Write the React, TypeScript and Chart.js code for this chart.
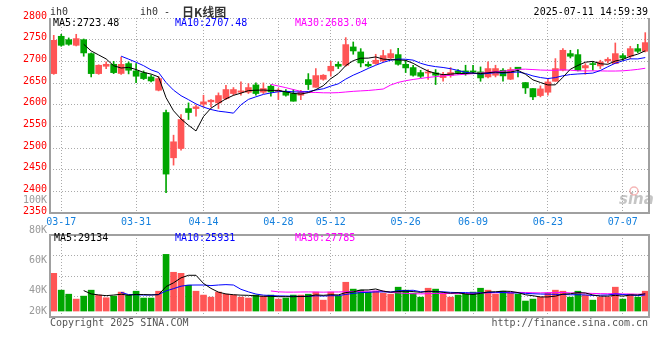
import React, { useEffect, useRef } from 'react';
import { Chart, registerables } from 'chart.js';

Chart.register(...registerables);

// ---------- data ----------
const DATES = [
  '03-14', '03-17', '03-18', '03-19', '03-20', '03-21', '03-24', '03-25', '03-26', '03-27', '03-28', '03-31',
  '04-01', '04-02', '04-03', '04-07', '04-08', '04-09', '04-10', '04-11', '04-14', '04-15', '04-16', '04-17', '04-18',
  '04-21', '04-22', '04-23', '04-24', '04-25', '04-28', '04-29', '04-30',
  '05-06', '05-07', '05-08', '05-09', '05-12', '05-13', '05-14', '05-15', '05-16', '05-19', '05-20', '05-21', '05-22', '05-23',
  '05-26', '05-27', '05-28', '05-29', '05-30',
  '06-03', '06-04', '06-05', '06-06', '06-09', '06-10', '06-11', '06-12', '06-13', '06-16', '06-17', '06-18', '06-19', '06-20',
  '06-23', '06-24', '06-25', '06-26', '06-27', '06-30',
  '07-01', '07-02', '07-03', '07-04', '07-07', '07-08', '07-09', '07-10',
];

const TICK_DATES = ['03-17', '03-31', '04-14', '04-28', '05-12', '05-26', '06-09', '06-23', '07-07'];

const OPEN = [
  2671.7, 2757.8, 2750.0, 2737.0, 2750.0, 2717.8, 2671.7, 2688.6, 2693.2, 2672.0,
  2694.8, 2677.9, 2673.3, 2664.0, 2633.3, 2581.9, 2477.4, 2498.9, 2591.0, 2591.0,
  2601.1, 2606.5, 2604.1, 2614.1, 2625.7, 2628.7, 2628.7, 2645.6, 2628.7, 2642.5,
  2630.2, 2629.5, 2625.7, 2621.8, 2657.9, 2640.2, 2658.7, 2677.9, 2693.2, 2690.9,
  2733.2, 2721.7, 2693.2, 2694.8, 2701.0, 2707.8, 2715.5, 2693.2, 2685.6, 2674.0,
  2673.0, 2673.3, 2662.5, 2667.9, 2677.9, 2677.9, 2677.9, 2675.6, 2664.0, 2667.9,
  2679.4, 2658.7, 2686.4, 2651.0, 2637.2, 2621.0, 2628.7, 2654.0, 2679.4, 2717.8,
  2715.5, 2684.8, 2694.8, 2689.4, 2700.9, 2694.8, 2713.2, 2711.7, 2729.3, 2723.2,
];
const HIGH = [
  2760.0, 2762.4, 2754.0, 2762.4, 2751.6, 2719.4, 2692.0, 2698.6, 2700.0, 2710.0,
  2698.6, 2694.8, 2677.9, 2668.0, 2665.0, 2587.3, 2529.6, 2577.3, 2604.0, 2598.8,
  2621.8, 2611.8, 2627.2, 2644.9, 2639.5, 2652.5, 2648.7, 2650.2, 2650.2, 2645.6,
  2637.2, 2634.9, 2634.9, 2633.3, 2671.7, 2683.3, 2669.4, 2700.2, 2698.6, 2754.7,
  2744.7, 2729.3, 2698.6, 2716.3, 2725.5, 2727.0, 2730.1, 2702.5, 2690.9, 2679.4,
  2681.0, 2681.0, 2674.8, 2685.6, 2681.0, 2691.0, 2691.0, 2687.1, 2698.6, 2691.0,
  2683.3, 2685.6, 2686.4, 2651.0, 2637.2, 2643.3, 2660.2, 2706.3, 2729.3, 2725.5,
  2727.0, 2694.8, 2698.6, 2702.5, 2708.6, 2742.4, 2717.8, 2734.7, 2739.3, 2766.2,
];
const LOW = [
  2670.0, 2734.7, 2737.0, 2735.5, 2711.7, 2664.0, 2670.0, 2683.3, 2671.7, 2670.0,
  2671.0, 2651.0, 2657.9, 2652.5, 2631.8, 2396.8, 2460.5, 2495.0, 2565.7, 2573.4,
  2594.9, 2595.0, 2591.0, 2611.8, 2621.8, 2621.8, 2625.7, 2621.8, 2625.7, 2619.5,
  2611.8, 2619.5, 2608.0, 2611.8, 2634.9, 2640.2, 2656.4, 2665.6, 2683.3, 2688.6,
  2716.3, 2687.1, 2687.1, 2693.2, 2698.6, 2706.3, 2690.9, 2674.0, 2665.6, 2662.5,
  2658.0, 2646.4, 2654.0, 2663.3, 2670.2, 2667.9, 2671.7, 2654.0, 2661.7, 2664.0,
  2654.0, 2657.9, 2664.0, 2625.7, 2611.8, 2618.0, 2621.8, 2654.0, 2677.9, 2707.8,
  2677.9, 2670.2, 2679.4, 2683.3, 2696.3, 2694.8, 2702.5, 2706.3, 2720.1, 2721.7,
];
const CLOSE = [
  2748.5, 2737.0, 2739.3, 2752.4, 2719.4, 2671.7, 2690.9, 2693.2, 2674.0, 2693.0,
  2679.4, 2665.6, 2660.2, 2654.8, 2660.2, 2439.8, 2514.3, 2565.7, 2581.9, 2595.0,
  2606.5, 2610.3, 2621.0, 2634.9, 2634.9, 2631.8, 2639.5, 2625.7, 2637.2, 2629.5,
  2633.3, 2621.8, 2608.0, 2629.5, 2646.4, 2667.1, 2667.9, 2688.6, 2688.6, 2738.6,
  2724.0, 2696.3, 2689.4, 2702.5, 2713.2, 2717.8, 2693.2, 2684.8, 2667.9, 2665.6,
  2675.5, 2667.9, 2669.4, 2674.0, 2674.0, 2673.3, 2675.6, 2661.7, 2683.3, 2683.3,
  2666.4, 2681.0, 2681.8, 2638.7, 2618.0, 2636.4, 2652.5, 2683.3, 2725.5, 2711.7,
  2679.4, 2690.2, 2692.5, 2698.6, 2704.8, 2717.8, 2707.8, 2729.3, 2723.2, 2743.2,
];

// volume in thousands (K)
const VOLUME = [
  51.3, 40.0, 37.3, 34.0, 36.0, 40.0, 36.7, 34.9, 36.0, 38.7,
  36.7, 39.3, 34.7, 34.7, 39.3, 64.0, 52.0, 51.3, 43.3, 39.3,
  36.7, 35.3, 38.7, 37.3, 36.7, 35.3, 34.7, 36.7, 36.0, 36.7,
  34.0, 34.7, 36.7, 36.7, 37.3, 38.7, 33.3, 38.7, 36.0, 45.3,
  40.7, 40.0, 38.7, 39.3, 38.0, 37.3, 42.0, 40.0, 38.0, 35.3,
  41.3, 40.7, 37.3, 35.3, 36.7, 37.3, 38.7, 41.3, 40.0, 37.3,
  39.3, 38.0, 37.3, 32.7, 34.0, 35.3, 38.0, 40.0, 39.3, 35.3,
  39.3, 36.7, 33.3, 35.3, 35.3, 42.0, 34.0, 37.3, 35.3, 39.3,
];

const PRICE_MIN = 2350;
const PRICE_MAX = 2800;
const PRICE_STEP = 50;
const VOL_AXIS_MIN = 22;
const VOL_AXIS_MAX = 77;
const VOL_FLOOR = 26;
const VOL_LABELS = [100, 80, 60, 40, 20];

const TITLE_CODE = 'ih0';
const TITLE_LEFT = 'ih0 -';
const TITLE_CJK = '日K线图';
const TIMESTAMP = '2025-07-11 14:59:39';
const PRICE_MA_TEXT = ['MA5:2723.48', 'MA10:2707.48', 'MA30:2683.04'];
const VOL_MA_TEXT = ['MA5:29134', 'MA10:25931', 'MA30:27785'];
const COPYRIGHT = 'Copyright 2025 SINA.COM';
const URL_TEXT = 'http://finance.sina.com.cn';

// ---------- styles ----------
const UP = '#ff5555';
const DOWN = '#00a600';
const MA_COLORS = ['#000000', '#0000ff', '#ff00ff'];
const GRID = '#aaaaaa';
const BORDER = '#a0a0a0';
const MONO = '"DejaVu Sans Mono", "Liberation Mono", monospace';

function movingAverage(values: number[], n: number): (number | null)[] {
  return values.map((_, i) => {
    if (i < n - 1) return null;
    let s = 0;
    for (let k = i - n + 1; k <= i; k++) s += values[k];
    return s / n;
  });
}

const candleColors = CLOSE.map((c, i) => (c >= OPEN[i] ? UP : DOWN));

const xTickFilter = (scale: any) => {
  scale.ticks = scale.ticks.filter((t: any) => TICK_DATES.includes(DATES[t.value]));
};

function maLine(label: string, data: (number | null)[], color: string) {
  return {
    type: 'line' as const,
    label,
    data,
    borderColor: color,
    backgroundColor: color,
    borderWidth: 1,
    pointRadius: 0,
    tension: 0,
    spanGaps: false,
    order: 0,
  };
}

const priceDecor = {
  id: 'priceDecor',
  beforeDatasetsDraw(chart: any) {
    const ctx = chart.ctx;
    ctx.save();
    ctx.fillStyle = 'rgba(150,150,150,0.55)';
    ctx.font = 'italic bold 15px "DejaVu Sans", sans-serif';
    ctx.textBaseline = 'middle';
    ctx.textAlign = 'left';
    ctx.fillText('sina', 619, 200);
    ctx.strokeStyle = 'rgba(235,110,110,0.5)';
    ctx.lineWidth = 1.5;
    ctx.beginPath();
    ctx.arc(634, 191, 4, 0, Math.PI * 2);
    ctx.stroke();
    ctx.restore();
  },
  afterDraw(chart: any) {
    const { ctx, chartArea: a } = chart;
    ctx.save();
    ctx.strokeStyle = BORDER;
    ctx.lineWidth = 2;
    ctx.beginPath();
    ctx.moveTo(a.left, a.top);
    ctx.lineTo(a.left, a.bottom);
    ctx.lineTo(a.right, a.bottom);
    ctx.lineTo(a.right, a.top);
    ctx.stroke();

    ctx.textBaseline = 'middle';
    ctx.font = `10px ${MONO}`;
    ctx.fillStyle = '#333333';
    ctx.textAlign = 'left';
    ctx.fillText(TITLE_CODE, 50, 12);
    ctx.fillText(TITLE_LEFT, 140, 12);
    ctx.font = 'bold 12px "Noto Sans CJK SC", sans-serif';
    ctx.fillText(TITLE_CJK, 182, 12);
    ctx.font = `10px ${MONO}`;
    ctx.fillStyle = '#000000';
    ctx.textAlign = 'right';
    ctx.fillText(TIMESTAMP, 648, 12);

    ctx.textAlign = 'left';
    const xs = [53, 175, 295];
    PRICE_MA_TEXT.forEach((t, i) => {
      ctx.fillStyle = MA_COLORS[i];
      ctx.fillText(t, xs[i], 23.5);
    });
    ctx.restore();
  },
};

const volDecor = {
  id: 'volDecor',
  afterDraw(chart: any) {
    const { ctx, chartArea: a } = chart;
    const ys = chart.scales.y;
    ctx.save();
    ctx.strokeStyle = BORDER;
    ctx.lineWidth = 2;
    ctx.strokeRect(a.left, a.top, a.right - a.left, a.bottom - a.top);

    ctx.textBaseline = 'middle';
    ctx.font = `10px ${MONO}`;
    ctx.textAlign = 'left';
    const xs = [54, 175, 295];
    VOL_MA_TEXT.forEach((t, i) => {
      ctx.fillStyle = MA_COLORS[i];
      ctx.fillText(t, xs[i], 238.5);
    });

    ctx.fillStyle = '#999999';
    ctx.textAlign = 'right';
    const floorY = ys.getPixelForValue(VOL_FLOOR);
    VOL_LABELS.forEach((v) => {
      const y = Math.min(ys.getPixelForValue(v), floorY);
      ctx.fillText(`${v}K`, 47, y);
    });

    ctx.fillStyle = '#555555';
    ctx.textAlign = 'left';
    ctx.fillText(COPYRIGHT, 50, 323.5);
    ctx.textAlign = 'right';
    ctx.fillText(URL_TEXT, 648, 323.5);
    ctx.restore();
  },
};

export default function App() {
  const priceRef = useRef<HTMLCanvasElement | null>(null);
  const volRef = useRef<HTMLCanvasElement | null>(null);

  useEffect(() => {
    if (!priceRef.current || !volRef.current) return;

    const priceChart = new Chart(priceRef.current, {
      type: 'bar',
      data: {
        labels: DATES,
        datasets: [
          maLine('MA5', movingAverage(CLOSE, 5), MA_COLORS[0]),
          maLine('MA10', movingAverage(CLOSE, 10), MA_COLORS[1]),
          maLine('MA30', movingAverage(CLOSE, 30), MA_COLORS[2]),
          {
            type: 'bar',
            label: 'body',
            data: OPEN.map((o, i) => [o, CLOSE[i]]),
            backgroundColor: candleColors,
            barThickness: 6,
            grouped: false,
            minBarLength: 1,
            order: 1,
          },
          {
            type: 'bar',
            label: 'wick',
            data: LOW.map((l, i) => [l, HIGH[i]]),
            backgroundColor: candleColors,
            barThickness: 1,
            grouped: false,
            order: 2,
          },
        ] as any,
      },
      options: {
        responsive: false,
        animation: false,
        devicePixelRatio: 1,
        layout: { padding: { top: 18, right: 11, left: 0, bottom: 0 } },
        plugins: { legend: { display: false }, tooltip: { enabled: false } },
        scales: {
          x: {
            grid: { offset: false, color: GRID, drawTicks: true, tickLength: 3, tickColor: GRID, tickBorderDash: [1, 2] },
            border: { display: false, dash: [1, 2] },
            ticks: { autoSkip: false, maxRotation: 0, color: '#1580dd', font: { family: MONO, size: 10 }, padding: 0 },
            afterBuildTicks: xTickFilter,
            afterFit: (s: any) => { s.height = 147; },
          },
          y: {
            min: PRICE_MIN,
            max: PRICE_MAX,
            ticks: {
              stepSize: PRICE_STEP,
              color: '#ff0000',
              font: { family: MONO, size: 10 },
              padding: 3,
              labelOffset: -2,
              callback: (v: any) => String(v),
            },
            grid: { color: GRID, drawTicks: false },
            border: { display: false, dash: [1, 2] },
            afterFit: (s: any) => { s.width = 50; },
          },
        },
      } as any,
      plugins: [priceDecor],
    });

    const volChart = new Chart(volRef.current, {
      type: 'bar',
      data: {
        labels: DATES,
        datasets: [
          maLine('VMA5', movingAverage(VOLUME, 5), MA_COLORS[0]),
          maLine('VMA10', movingAverage(VOLUME, 10), MA_COLORS[1]),
          maLine('VMA30', movingAverage(VOLUME, 30), MA_COLORS[2]),
          {
            type: 'bar',
            label: 'volume',
            data: VOLUME.map((v) => [VOL_FLOOR, v]),
            backgroundColor: candleColors,
            barThickness: 6,
            grouped: false,
            order: 1,
          },
        ] as any,
      },
      options: {
        responsive: false,
        animation: false,
        devicePixelRatio: 1,
        layout: { padding: { top: 235, right: 11, left: 0, bottom: 0 } },
        plugins: { legend: { display: false }, tooltip: { enabled: false } },
        scales: {
          x: {
            grid: { offset: false, color: GRID, drawTicks: true, tickLength: 3, tickColor: GRID, tickBorderDash: [1, 2] },
            border: { display: false, dash: [1, 2] },
            ticks: { display: false, autoSkip: false, maxRotation: 0 },
            afterBuildTicks: xTickFilter,
            afterFit: (s: any) => { s.height = 43; },
          },
          y: {
            min: VOL_AXIS_MIN,
            max: VOL_AXIS_MAX,
            ticks: { display: false },
            grid: { color: GRID, drawTicks: false },
            border: { display: false, dash: [1, 2] },
            afterBuildTicks: (s: any) => {
              s.ticks = [0, 1, 2, 3, 4].map((k) => ({ value: VOL_AXIS_MIN + (k * (VOL_AXIS_MAX - VOL_AXIS_MIN)) / 4 }));
            },
            afterFit: (s: any) => { s.width = 50; },
          },
        },
      } as any,
      plugins: [volDecor],
    });

    return () => {
      priceChart.destroy();
      volChart.destroy();
    };
  }, []);

  return (
    <div style={{ position: 'fixed', left: 0, top: 0, width: 660, height: 360, background: '#ffffff' }}>
      <canvas ref={priceRef} width={660} height={360} style={{ position: 'absolute', left: 0, top: 0 }} />
      <canvas ref={volRef} width={660} height={360} style={{ position: 'absolute', left: 0, top: 0 }} />
    </div>
  );
}
